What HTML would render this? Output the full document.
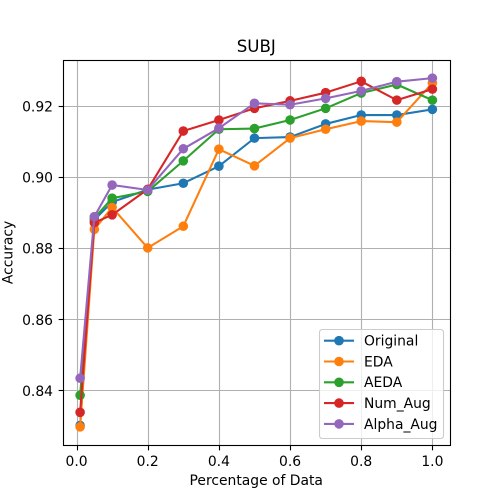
<!DOCTYPE html>
<html>
<head>
<meta charset="utf-8">
<style>
html,body{margin:0;padding:0;background:#fff;width:500px;height:500px;overflow:hidden}
svg{display:block}
text{font-family:"DejaVu Sans","Liberation Sans",sans-serif;fill:#000}
</style>
</head>
<body>
<svg id="chart" xmlns="http://www.w3.org/2000/svg" width="500" height="500" viewBox="0 0 500 500"></svg>
<script>
const percentages = [0.01, 0.05, 0.1, 0.2, 0.3, 0.4, 0.5, 0.6, 0.7, 0.8, 0.9, 1.0];
const originalValues = [0.8301, 0.8880, 0.8930, 0.8965, 0.8983, 0.9031, 0.9110, 0.9113, 0.9150, 0.9175, 0.9175, 0.9191];
const edaValues = [0.8297, 0.8853, 0.8915, 0.8801, 0.8862, 0.9079, 0.9032, 0.9110, 0.9135, 0.9158, 0.9155, 0.9265];
const aedaValues = [0.8386, 0.8885, 0.8941, 0.8960, 0.9046, 0.9135, 0.9137, 0.9161, 0.9194, 0.9237, 0.9261, 0.9217];
const numAugValues = [0.8338, 0.8872, 0.8894, 0.8966, 0.9130, 0.9161, 0.9194, 0.9215, 0.9238, 0.9270, 0.9217, 0.9248];
const alphaAugValues = [0.8434, 0.8889, 0.8978, 0.8964, 0.9080, 0.9138, 0.9208, 0.9204, 0.9222, 0.9243, 0.9269, 0.9279];
const seriesNames = ["Original", "EDA", "AEDA", "Num_Aug", "Alpha_Aug"];
const xTickValues = [0.0, 0.2, 0.4, 0.6, 0.8, 1.0];
const yTickValues = [0.84, 0.86, 0.88, 0.90, 0.92];

const seriesValues = [originalValues, edaValues, aedaValues, numAugValues, alphaAugValues];
const colors = ["#1f77b4", "#ff7f0e", "#2ca02c", "#d62728", "#9467bd"];
const svg = document.getElementById('chart');
const NS = 'http://www.w3.org/2000/svg';
const plot = {left: 62.5, right: 450, top: 60, bottom: 445};
const xMin = -0.0395, xMax = 1.0495, yMin = 0.8246, yMax = 0.9330;

function xScale(v) { return plot.left + (v - xMin) / (xMax - xMin) * (plot.right - plot.left); }
function yScale(v) { return plot.bottom - (v - yMin) / (yMax - yMin) * (plot.bottom - plot.top); }
function snap(p) { return Math.round(p) + 0.5; }
function make(tag, attrs, parent) {
  const el = document.createElementNS(NS, tag);
  for (const k in attrs) el.setAttribute(k, attrs[k]);
  (parent || svg).appendChild(el);
  return el;
}
function slug(s) { return s.toLowerCase().replace(/_/g, '-'); }

const frameLeft = 63.5, frameRight = 450.5, frameTop = 60.5, frameBottom = 445.5;

const bg = make('rect', {x: plot.left, y: plot.top, width: plot.right - plot.left, height: plot.bottom - plot.top, fill: '#fff'});



xTickValues.forEach(function (t) {
  const px = xScale(t);
  const g = make('line', {x1: snap(px), x2: snap(px), y1: frameTop, y2: frameBottom, stroke: '#b0b0b0', 'stroke-width': 1.11});
  
  
  const m = make('line', {x1: snap(px), x2: snap(px), y1: frameBottom, y2: frameBottom + 4.86, stroke: '#000', 'stroke-width': 1.11});
  
  
  const l = make('text', {x: px, y: 466, 'text-anchor': 'middle', 'font-size': 13.89});
  
  
  l.textContent = t.toFixed(1);
});
yTickValues.forEach(function (t) {
  const py = yScale(t);
  const g = make('line', {x1: frameLeft, x2: frameRight, y1: snap(py), y2: snap(py), stroke: '#b0b0b0', 'stroke-width': 1.11});
  
  
  const m = make('line', {x1: frameLeft - 4.86, x2: frameLeft, y1: snap(py), y2: snap(py), stroke: '#000', 'stroke-width': 1.11});
  
  
  const l = make('text', {x: 53, y: py + 5.5, 'text-anchor': 'end', 'font-size': 13.89});
  
  
  l.textContent = t.toFixed(2);
});

seriesValues.forEach(function (vals, i) {
  const g = make('g', {});
  
  
  const pts = vals.map(function (v, j) { return xScale(percentages[j]) + ',' + yScale(v); }).join(' ');
  const line = make('polyline', {points: pts, fill: 'none', stroke: colors[i], 'stroke-width': 2.08, 'stroke-linejoin': 'round'}, g);
  
  
  vals.forEach(function (v, j) {
    const c = make('circle', {cx: xScale(percentages[j]), cy: yScale(v), r: 4.8, fill: colors[i]}, g);
    
    
  });
});

const frame = make('rect', {x: frameLeft, y: frameTop, width: frameRight - frameLeft, height: frameBottom - frameTop, fill: 'none', stroke: '#000', 'stroke-width': 1.11});



const title = make('text', {x: 256.25, y: 52, 'text-anchor': 'middle', 'font-size': 16.67});


title.textContent = 'SUBJ';

const xTitle = make('text', {x: 256.25, y: 485, 'text-anchor': 'middle', 'font-size': 13.89});


xTitle.textContent = 'Percentage of Data';

const yTitle = make('text', {x: 0, y: 0, transform: 'translate(12.5,252.5) rotate(-90)', 'text-anchor': 'middle', 'font-size': 13.89});


yTitle.textContent = 'Accuracy';

const legend = make('g', {});


const legendBox = make('rect', {x: 319.5, y: 329.5, width: 124, height: 109, rx: 2.8, ry: 2.8, fill: '#fff', 'fill-opacity': 0.8, stroke: '#ccc', 'stroke-width': 1.11}, legend);


seriesNames.forEach(function (name, i) {
  const rowY = 340.7 + i * 20.8;
  const row = make('g', {}, legend);
  
  
  make('line', {x1: 325, x2: 353, y1: rowY, y2: rowY, stroke: colors[i], 'stroke-width': 2.08, 'stroke-linecap': 'square'}, row);
  make('circle', {cx: 339, cy: rowY, r: 4.8, fill: colors[i]}, row);
  const t = make('text', {x: 364, y: rowY + 4.9, 'font-size': 13.89}, row);
  
  
  t.textContent = name;
});
</script>
</body>
</html>
